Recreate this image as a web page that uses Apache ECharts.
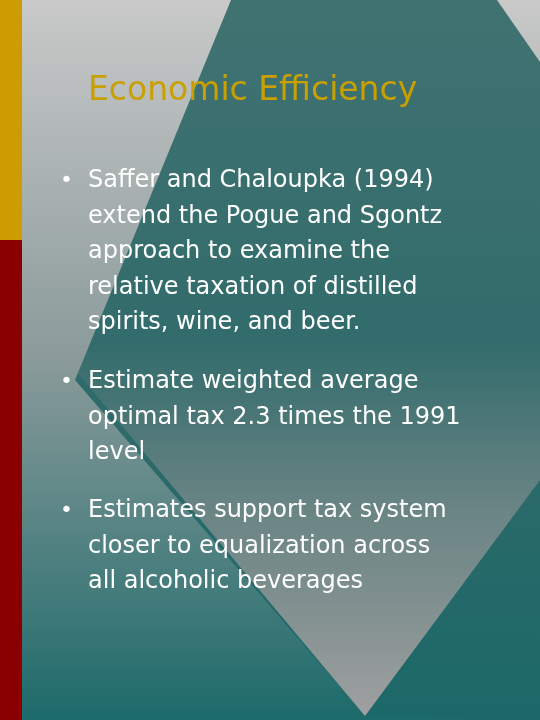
<!DOCTYPE html>
<html>
<head>
<meta charset="utf-8">
<script src="https://cdn.jsdelivr.net/npm/echarts@6/dist/echarts.min.js"></script>
<style>html,body{margin:0;padding:0;}#main{width:540px;height:720px;}</style>
</head>
<body>
<div id="main"></div>
<script>
var titleText = 'Economic Efficiency';
var bullets = [
  ['Saffer and Chaloupka (1994)', 'extend the Pogue and Sgontz', 'approach to examine the', 'relative taxation of distilled', 'spirits, wine, and beer.'],
  ['Estimate weighted average', 'optimal tax 2.3 times the 1991', 'level'],
  ['Estimates support tax system', 'closer to equalization across', 'all alcoholic beverages']
];
var bulletTops = [181, 382, 511];
var lineGap = 35.5;

var myChart = echarts.init(document.getElementById('main'));
var els = [];
// backdrop
els.push({type: 'rect', shape: {x: 0, y: 0, width: 540, height: 720},
  style: {fill: new echarts.graphic.LinearGradient(0, 0, 0, 1, [
    {offset: 0, color: '#c9c9c9'}, {offset: 0.5, color: '#8a9a9a'}, {offset: 1, color: '#1d6a6a'}])}});
// teal shape
els.push({type: 'polygon', shape: {points: [[231, 0], [497, 0], [540, 62], [540, 720], [365, 716], [75, 380]]},
  style: {fill: new echarts.graphic.LinearGradient(0, 0, 0, 1, [
    {offset: 0, color: '#417272'}, {offset: 0.6, color: '#2e6a6a'}, {offset: 1, color: '#1c6868'}])}});
// grey inverted triangle
els.push({type: 'polygon', shape: {points: [[365, 716], [50, 340], [540, 340], [540, 480]]},
  style: {fill: new echarts.graphic.LinearGradient(0, 0, 0, 1, [
    {offset: 0, color: 'rgba(150,150,150,0)'}, {offset: 0.45, color: 'rgba(150,150,150,0.6)'}, {offset: 1, color: 'rgba(160,160,160,1)'}])}});
// left strip
els.push({type: 'rect', shape: {x: 0, y: 0, width: 22, height: 240}, style: {fill: '#cc9c00'}});
els.push({type: 'rect', shape: {x: 0, y: 240, width: 22, height: 480}, style: {fill: '#8a0000'}});
// title
els.push({type: 'text', x: 88, y: 91, style: {text: titleText, fill: '#c9a000',
  fontFamily: 'DejaVu Sans', fontSize: 33, verticalAlign: 'middle',
  textShadowColor: 'rgba(60,60,60,0.6)', textShadowOffsetX: 2, textShadowOffsetY: 2}});
// bullets
bullets.forEach(function (lines, b) {
  els.push({type: 'text', x: 60, y: bulletTops[b], style: {text: '•', fill: '#ffffff',
    fontFamily: 'DejaVu Sans', fontSize: 22, verticalAlign: 'middle'}});
  lines.forEach(function (t, i) {
    els.push({type: 'text', x: 88, y: bulletTops[b] + i * lineGap, style: {text: t, fill: '#ffffff',
      fontFamily: 'DejaVu Sans', fontSize: 24, verticalAlign: 'middle',
      textShadowColor: 'rgba(40,40,40,0.6)', textShadowOffsetX: 2, textShadowOffsetY: 2}});
  });
});
myChart.setOption({graphic: {elements: els}});
</script>
</body>
</html>
